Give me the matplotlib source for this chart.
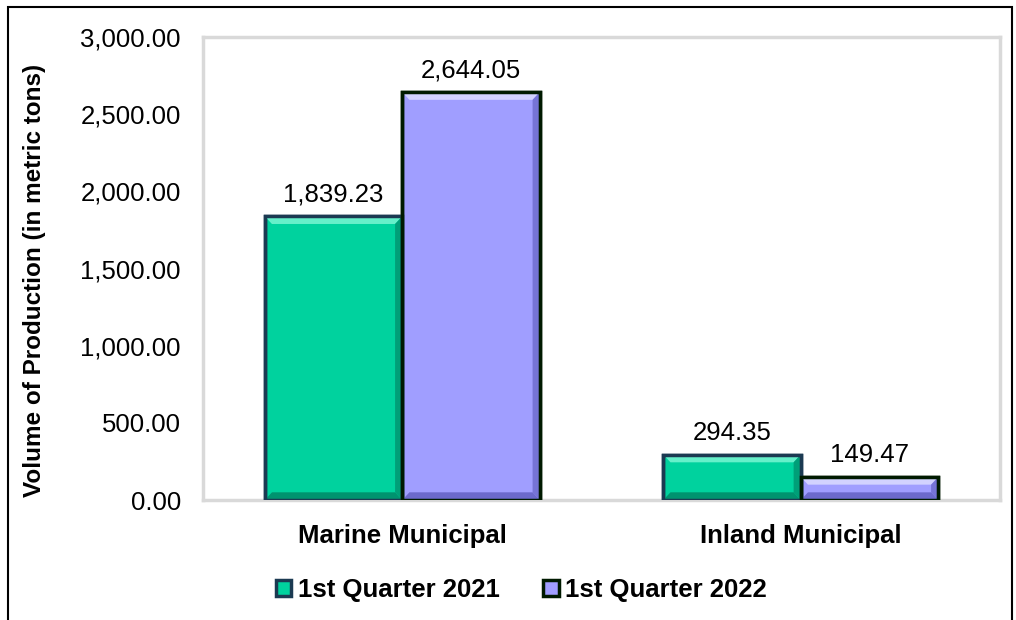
#!/usr/bin/env python3
import matplotlib
matplotlib.use("Agg")
import matplotlib.pyplot as plt
import matplotlib.ticker as mtick
from matplotlib.patches import Rectangle, Patch, Polygon
import numpy as np

categories = ["Marine Municipal", "Inland Municipal"]
series_names = ["1st Quarter 2021", "1st Quarter 2022"]
q1_2021 = [1839.23, 294.35]
q1_2022 = [2644.05, 149.47]

face_colors = ["#00D29E", "#A09EFF"]
light_colors = ["#66F0CA", "#D2D2FF"]
dark_colors = ["#00936F", "#6C6ACC"]
edge_colors = ["#1B3A52", "#001A00"]

plt.rcParams["font.family"] = ["Liberation Sans", "DejaVu Sans"]


def add_bevel(ax, bar, light, dark, bx=0.018, by=50):
    # simple bevel: lighter top strip, darker bottom/right strips
    x0, y0 = bar.get_x(), bar.get_y()
    x1, y1 = x0 + bar.get_width(), y0 + bar.get_height()
    by = min(by, bar.get_height() / 3)
    ax.add_patch(Polygon([(x0, y1), (x1, y1), (x1 - bx, y1 - by), (x0 + bx, y1 - by)],
                         closed=True, facecolor=light, edgecolor="none", zorder=3.5))
    ax.add_patch(Polygon([(x0, y0), (x1, y0), (x1 - bx, y0 + by), (x0 + bx, y0 + by)],
                         closed=True, facecolor=dark, edgecolor="none", zorder=3.5))
    ax.add_patch(Polygon([(x1, y0), (x1, y1), (x1 - bx, y1 - by), (x1 - bx, y0 + by)],
                         closed=True, facecolor=dark, edgecolor="none", zorder=3.5, alpha=0.8))


def main():
    fig = plt.figure(figsize=(10.16, 6.2), dpi=100)
    ax = fig.add_axes([0.1998, 0.1935, 0.7845, 0.7465])

    x = np.arange(len(categories))
    width = 0.345
    for i, (vals, name) in enumerate(zip([q1_2021, q1_2022], series_names)):
        offset = (i - 0.5) * width
        bars = ax.bar(x + offset, vals, width, color=face_colors[i],
                      edgecolor=edge_colors[i], linewidth=2.5, label=name, zorder=3)
        for b, v in zip(bars, vals):
            add_bevel(ax, b, light_colors[i], dark_colors[i])
            # redraw the outline on top of the bevel
            ax.add_patch(Rectangle((b.get_x(), b.get_y()), b.get_width(), b.get_height(),
                                   fill=False, edgecolor=edge_colors[i], linewidth=2.5,
                                   zorder=4))
            ax.annotate(f"{v:,.2f}", (b.get_x() + b.get_width() / 2, v),
                        xytext=(0, 7), textcoords="offset points",
                        ha="center", va="bottom", fontsize=18.5)

    ax.set_xlim(-0.5, 1.5)
    ax.set_ylim(0, 3000)
    ax.set_yticks(np.arange(0, 3001, 500))
    ax.yaxis.set_major_formatter(mtick.StrMethodFormatter("{x:,.2f}"))
    ax.set_xticks(x)
    ax.set_xticklabels(categories, fontsize=18.5, fontweight="bold")
    ax.tick_params(axis="y", length=0, labelsize=18.5, pad=16)
    ax.tick_params(axis="x", length=0, pad=17)
    for s in ax.spines.values():
        s.set_color("#D9D9D9")
        s.set_linewidth(2.5)
    ax.set_ylabel("Volume of Production (in metric tons)", fontsize=17.5,
                  fontweight="bold")
    ax.yaxis.set_label_coords(-0.197, 0.475)

    handles = [Patch(facecolor=face_colors[i], edgecolor=edge_colors[i],
                     linewidth=2.5) for i in range(2)]
    fig.legend(handles, series_names, loc="center", bbox_to_anchor=(0.513, 0.048),
               ncol=2, frameon=False, prop={"weight": "bold", "size": 18.5},
               handlelength=0.6, handleheight=0.6, handletextpad=0.25,
               columnspacing=1.7)

    # outer chart border (bottom edge falls outside the image)
    fig.patches.append(Rectangle((8 / 1016, -0.05), 1004 / 1016, 1.05 - 7 / 620,
                                 transform=fig.transFigure, fill=False,
                                 edgecolor="black", linewidth=1.5))

    fig.savefig("out.png", dpi=100)


if __name__ == "__main__":
    main()
